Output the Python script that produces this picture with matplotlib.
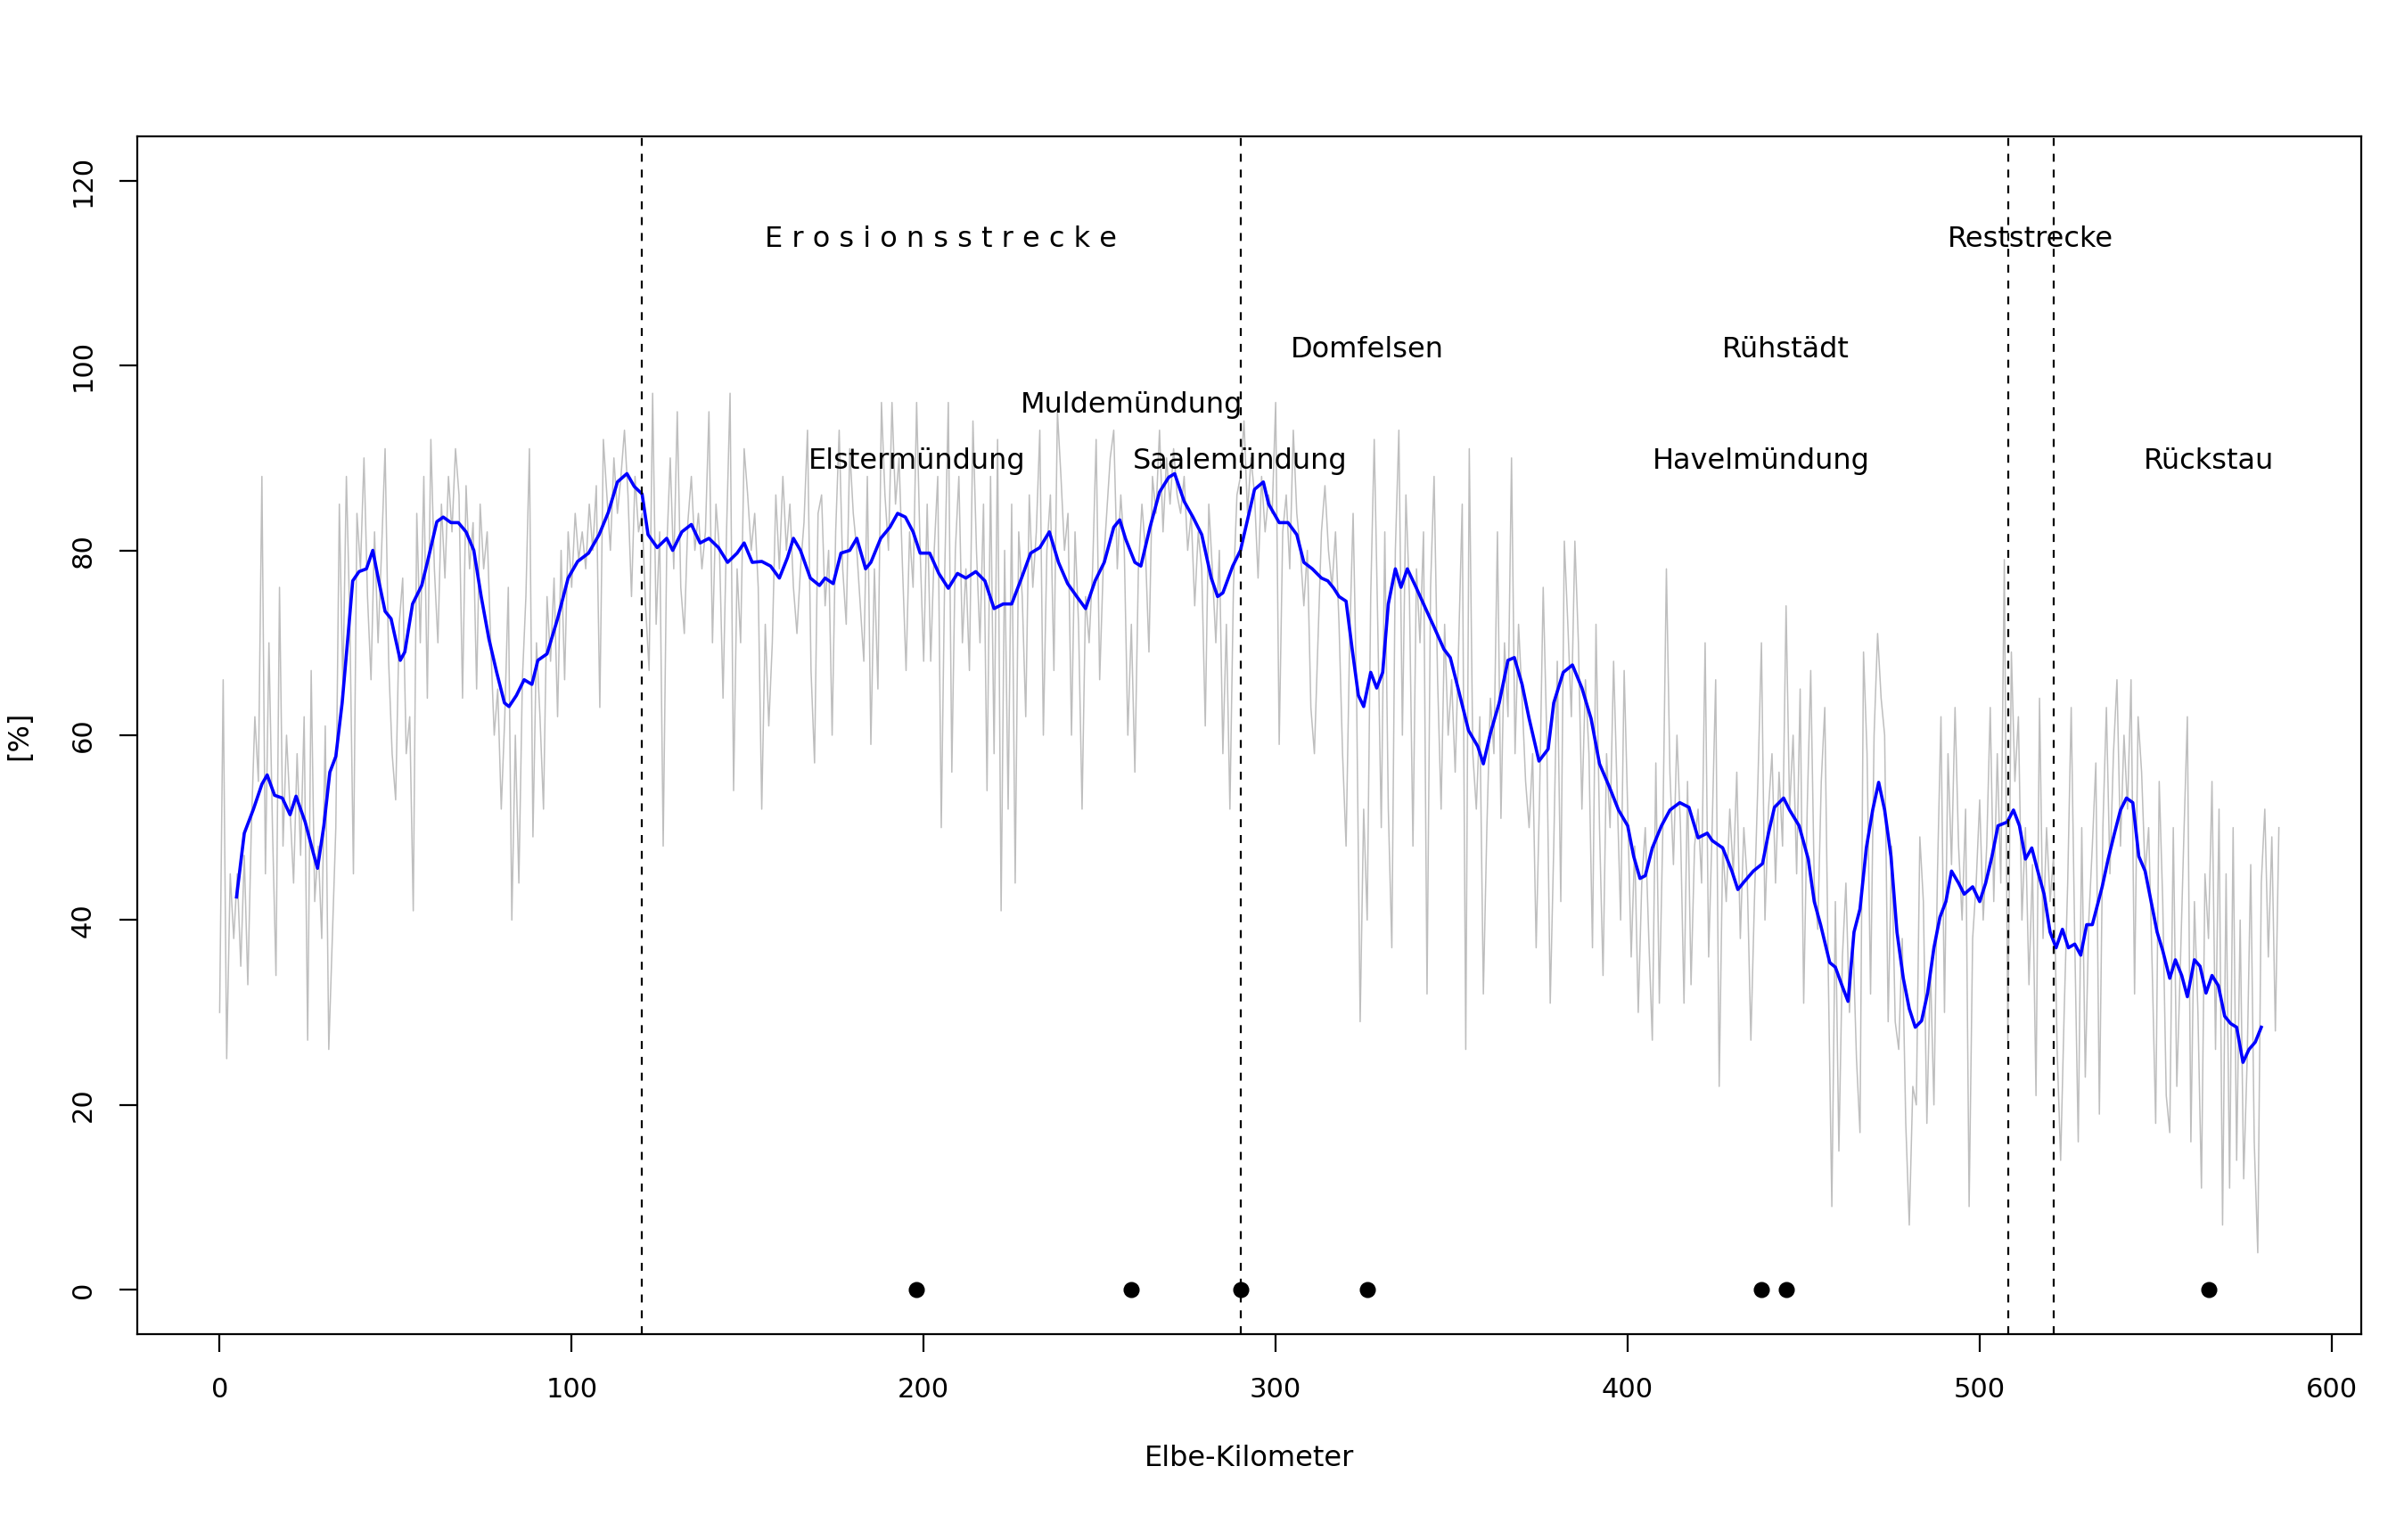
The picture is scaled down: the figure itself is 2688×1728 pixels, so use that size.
import numpy as np
import matplotlib
matplotlib.use("Agg")
import matplotlib.pyplot as plt

# raw values, one per Elbe-Kilometer (0..585)
raw_val = [
    30, 66, 25, 45, 38, 45, 35, 47, 33, 50,
    62, 55, 88, 45, 70, 50, 34, 76, 48, 60,
    52, 44, 58, 47, 62, 27, 67, 42, 48, 38,
    61, 26, 38, 50, 85, 65, 88, 72, 45, 84,
    78, 90, 75, 66, 82, 70, 80, 91, 68, 58,
    53, 72, 77, 58, 62, 41, 84, 70, 88, 64,
    92, 78, 70, 85, 77, 88, 82, 91, 86, 64,
    87, 78, 83, 65, 85, 78, 82, 70, 60, 65,
    52, 62, 76, 40, 60, 44, 66, 75, 91, 49,
    70, 62, 52, 75, 68, 77, 62, 80, 66, 82,
    76, 84, 79, 82, 78, 85, 80, 87, 63, 92,
    86, 80, 90, 84, 88, 93, 86, 75, 88, 82,
    84, 74, 67, 97, 72, 82, 48, 80, 90, 78,
    95, 76, 71, 83, 88, 80, 84, 78, 82, 95,
    70, 85, 80, 64, 82, 97, 54, 78, 70, 91,
    86, 80, 84, 76, 52, 72, 61, 70, 86, 78,
    88, 80, 85, 76, 71, 78, 83, 93, 67, 57,
    84, 86, 74, 80, 60, 82, 93, 78, 72, 91,
    84, 80, 74, 68, 88, 59, 78, 65, 96, 86,
    80, 96, 85, 90, 78, 67, 82, 76, 96, 80,
    68, 85, 68, 80, 88, 50, 78, 96, 56, 80,
    88, 70, 78, 67, 94, 80, 70, 85, 54, 88,
    58, 92, 41, 80, 52, 85, 44, 82, 75, 62,
    86, 76, 82, 93, 60, 80, 86, 67, 95, 88,
    80, 84, 60, 82, 72, 52, 75, 70, 78, 92,
    66, 78, 84, 90, 93, 78, 86, 80, 60, 72,
    56, 78, 85, 80, 69, 88, 84, 93, 82, 90,
    85, 91, 86, 84, 88, 80, 84, 74, 82, 78,
    61, 85, 78, 70, 80, 58, 72, 52, 76, 86,
    88, 94, 84, 90, 86, 77, 88, 82, 86, 84,
    96, 59, 82, 86, 78, 93, 84, 80, 74, 80,
    63, 58, 70, 82, 87, 80, 76, 82, 72, 58,
    48, 70, 84, 64, 29, 52, 40, 75, 92, 72,
    50, 82, 52, 37, 80, 93, 60, 86, 75, 48,
    78, 70, 82, 32, 76, 88, 66, 52, 72, 60,
    66, 56, 70, 85, 26, 91, 58, 52, 62, 32,
    50, 64, 58, 82, 51, 70, 62, 90, 58, 72,
    64, 55, 50, 58, 37, 54, 76, 60, 31, 48,
    68, 42, 81, 72, 62, 81, 70, 52, 66, 58,
    37, 72, 50, 34, 58, 50, 68, 54, 40, 67,
    52, 36, 48, 30, 44, 50, 38, 27, 57, 31,
    50, 78, 56, 46, 60, 50, 31, 55, 33, 48,
    52, 44, 70, 36, 50, 66, 22, 48, 42, 52,
    45, 56, 38, 50, 44, 27, 42, 55, 70, 40,
    52, 58, 44, 56, 48, 74, 52, 60, 45, 65,
    31, 52, 67, 44, 39, 55, 63, 34, 9, 42,
    15, 36, 44, 30, 38, 25, 17, 69, 58, 32,
    60, 71, 64, 60, 29, 48, 29, 26, 38, 18,
    7, 22, 20, 49, 42, 18, 35, 20, 45, 62,
    30, 58, 46, 63, 48, 40, 52, 9, 38, 44,
    53, 40, 48, 63, 42, 58, 44, 79, 27, 69,
    55, 62, 40, 50, 33, 46, 21, 64, 38, 50,
    42, 47, 26, 14, 30, 44, 63, 38, 16, 50,
    23, 40, 48, 57, 19, 50, 63, 45, 58, 66,
    48, 60, 52, 66, 32, 62, 56, 45, 50, 35,
    18, 55, 42, 21, 17, 50, 22, 35, 49, 62,
    16, 42, 30, 11, 45, 38, 55, 26, 52, 7,
    45, 11, 50, 14, 40, 12, 25, 46, 16, 4,
    44, 52, 36, 49, 28, 50,
]
raw_km = np.arange(len(raw_val))

# smoothed curve (blue)
smooth_km = [
    4.8, 7, 9.6, 12, 13.5, 15.6, 17.8, 20, 21.7, 24.3, 26.5, 27.8, 29.6, 31.3,
    33, 34.8, 36.5, 37.8, 39.6, 41.7, 43.5, 45.2, 47, 48.7, 51.3, 52.6, 54.8,
    57.4, 59, 61.7, 63.5, 65.7, 67.8, 70, 72.2, 74.3, 76.5, 78.7, 80.9, 82.2,
    84.3, 86.5, 88.7, 90.4, 93, 96, 99, 101.7, 104.8, 107.8, 110.4, 113, 115.7,
    117.8, 120, 121.7, 124.3, 127, 128.7, 131.3, 134, 136.5, 139, 141.7, 144.3,
    147, 149, 151.3, 154, 156.5, 159, 161.3, 163, 165, 167.8, 170.4, 172, 174.3,
    176.5, 179, 181, 183.5, 185, 187.8, 190.4, 192.6, 194.8, 197, 199, 201.7,
    204.3, 207, 209.6, 212, 214.8, 217.4, 220, 222.6, 225, 227.8, 230.4, 233,
    235.7, 238.3, 240.9, 243.5, 246, 248.7, 251.3, 254, 255.7, 257.4, 260,
    261.7, 264.3, 267, 269.6, 271.3, 274, 276.5, 279, 281.7, 283.5, 285, 287.8,
    290, 292, 294, 296.5, 298, 301, 303.5, 306, 308, 310.4, 313, 314.8, 316.5,
    318, 320, 321.7, 323.5, 325, 327, 328.7, 330.4, 332, 334, 335.6, 337.4,
    340, 342.6, 345, 347.8, 349.6, 352, 354.8, 357.4, 359, 361, 363.5, 366,
    367.8, 370, 372, 374.8, 377.4, 379, 381.7, 384.3, 387, 389.6, 392, 394.8,
    397.4, 400, 401.7, 403.5, 405, 407, 409.6, 412, 414.8, 417.4, 420, 422.6,
    424, 427, 429.6, 431.3, 433, 435.7, 438.3, 440, 441.7, 444.3, 446, 448.7,
    451.3, 453, 454.8, 457.4, 459, 460.9, 462.6, 464.3, 466, 467.8, 469.6,
    471.3, 473, 474.8, 476.5, 478.3, 480, 481.7, 483.5, 485.2, 487, 488.7,
    490.4, 492, 494, 495.6, 498, 500, 501.7, 503.5, 505.2, 507.8, 509.6, 511.3,
    513, 514.8, 516.5, 518.3, 520, 521.7, 523.5, 525.2, 527, 528.7, 530.4, 532,
    534.8, 536.5, 538.3, 540, 541.7, 543.5, 545.2, 547, 548.7, 550.4, 552, 554,
    555.6, 557.4, 559, 561, 562.6, 564.3, 566, 567.8, 569.6, 571.3, 573, 574.8,
    576.5, 578.3, 580,
]
smooth_val = [
    42.5, 49.4, 52, 54.7, 55.7, 53.5, 53.2, 51.4, 53.4, 50.6, 47.4, 45.6, 50.2,
    56, 57.7, 63.5, 70.9, 76.7, 77.7, 78, 80, 76.7, 73.4, 72.6, 68.1, 69, 74.2,
    76.2, 78.7, 83.1, 83.6, 83, 83, 82, 80, 75, 70.4, 66.8, 63.5, 63.1, 64.3,
    66, 65.5, 68.1, 68.8, 72.6, 77, 78.8, 79.7, 81.7, 84.1, 87.4, 88.3, 86.9,
    86.1, 81.7, 80.3, 81.3, 80, 82, 82.8, 80.8, 81.3, 80.3, 78.7, 79.7, 80.8,
    78.7, 78.8, 78.3, 77, 79.2, 81.3, 80, 77, 76.2, 77, 76.4, 79.7, 80, 81.3,
    78, 78.7, 81.3, 82.5, 84, 83.6, 82, 79.7, 79.7, 77.5, 75.9, 77.5, 77, 77.7,
    76.7, 73.7, 74.2, 74.2, 77, 79.7, 80.3, 82, 78.7, 76.4, 75, 73.7, 76.7,
    78.7, 82.5, 83.3, 81.2, 78.7, 78.3, 82.5, 86.3, 87.9, 88.3, 85.3, 83.6,
    81.7, 77, 75, 75.4, 78.3, 80, 83.3, 86.6, 87.4, 85, 83, 83, 81.7, 78.7, 78,
    77, 76.7, 75.9, 75, 74.5, 69.4, 64.3, 63.1, 66.8, 65.1, 66.8, 74.2, 78, 76,
    78, 75.9, 73.7, 71.7, 69.3, 68.4, 64.8, 60.5, 58.8, 56.9, 60.2, 63.5, 68.1,
    68.4, 65.5, 61.8, 57.2, 58.5, 63.5, 66.8, 67.6, 65.1, 61.8, 56.9, 54.4,
    51.9, 50.2, 46.9, 44.5, 44.8, 47.8, 50.2, 51.9, 52.7, 52.2, 48.9, 49.4,
    48.6, 47.8, 45.3, 43.3, 44.1, 45.3, 46.1, 49.4, 52.2, 53.2, 51.9, 50.2,
    46.6, 42, 39.5, 35.4, 34.9, 32.9, 31.2, 38.7, 41.2, 47.8, 51.9, 54.9, 51.9,
    46.9, 38.7, 33.7, 30.4, 28.4, 29.1, 32.1, 37, 40.3, 42, 45.3, 44, 42.8,
    43.6, 42, 44, 46.9, 50.2, 50.6, 51.9, 50.2, 46.6, 47.8, 45.3, 42.8, 38.7,
    37, 39, 37, 37.4, 36.2, 39.5, 39.5, 43.6, 46.6, 49.4, 51.9, 53.2, 52.7,
    46.9, 45.3, 42, 38.7, 36.7, 33.7, 35.7, 34, 31.7, 35.7, 35, 32.1, 34, 32.9,
    29.6, 28.8, 28.4, 24.6, 26, 26.8, 28.4,
]

section_bounds = [120, 290, 508, 521]
site_km = [198, 259, 290, 326, 438, 445, 565]
site_names = ["Elstermündung", "Muldemündung", "Saalemündung", "Domfelsen",
              "Havelmündung", "Rühstädt", "Rückstau"]
site_label_y = [90, 96, 90, 102, 90, 102, 90]
section_names = ["E r o s i o n s s t r e c k e", "Reststrecke"]
section_label_km = [205, 514.5]

plt.rcParams['font.family'] = ['DejaVu Sans']
plt.rcParams['font.size'] = 11

fig = plt.figure(figsize=(13.44, 8.64), dpi=200)
ax = fig.add_axes([0.0573, 0.1337, 0.9282, 0.7778])

ax.plot(raw_km, raw_val, color="#BEBEBE", lw=0.55)
ax.plot(smooth_km, smooth_val, color="#0000FF", lw=1.3)
for b in section_bounds:
    ax.axvline(b, color="black", lw=0.8, linestyle=(0, (4, 4)))
ax.plot(site_km, np.zeros(len(site_km)), "o", color="black", ms=5.5)

# labels drawn a touch lower, like R's text() centring
for name, x, y in zip(site_names, site_km, site_label_y):
    ax.annotate(name, (x, y), xytext=(0, -1.2), textcoords="offset points",
                ha="center", va="center", fontsize=11.5)
for name, x in zip(section_names, section_label_km):
    ax.annotate(name, (x, 114), xytext=(0, -1.2), textcoords="offset points",
                ha="center", va="center", fontsize=11.5)

ax.set_xlim(-23.4, 608.4)
ax.set_ylim(-4.8, 124.8)
ax.set_xticks(range(0, 601, 100))
ax.set_yticks(range(0, 121, 20))
ax.tick_params(direction="out", length=7.2, width=0.8)
ax.tick_params(axis="x", pad=10)
ax.tick_params(axis="y", pad=9.5, labelrotation=90)
for lab in ax.get_yticklabels():
    lab.set_va("center")
for s in ax.spines.values():
    s.set_linewidth(0.8)

ax.set_xlabel("Elbe-Kilometer", fontsize=11.5)
ax.set_ylabel("[%]", fontsize=11.5)
ax.xaxis.set_label_coords(0.5, -0.092)
ax.yaxis.set_label_coords(-0.047, 0.5)

fig.savefig("out.png", dpi=200)
